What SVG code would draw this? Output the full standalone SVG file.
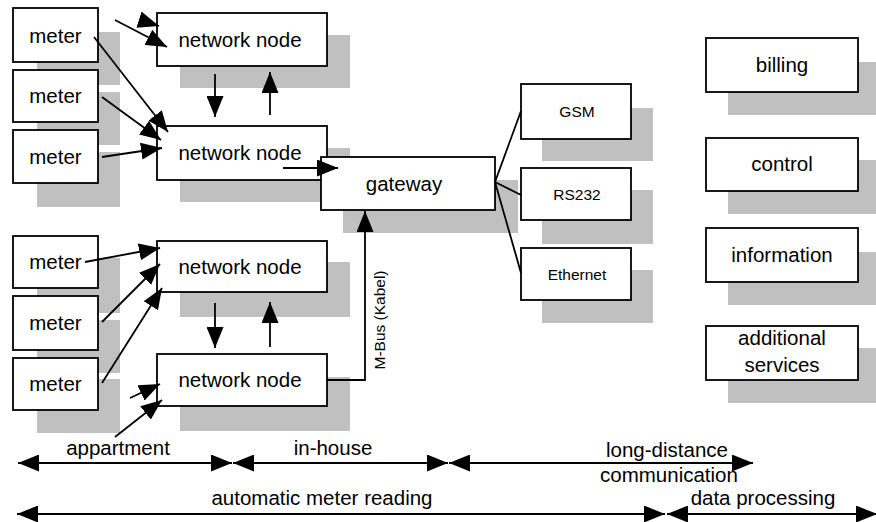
<svg xmlns="http://www.w3.org/2000/svg" width="876" height="522" viewBox="0 0 876 522">
<style>
.sh{fill:#c0c0c0;stroke:none}
.bx{fill:#fff;stroke:#000;stroke-width:1.8}
.t{font-family:"Liberation Sans",Arial,sans-serif;font-size:20.5px;fill:#000;text-anchor:middle}
.s{font-family:"Liberation Sans",Arial,sans-serif;font-size:15.5px;fill:#000;text-anchor:middle}
.c{stroke:#000;stroke-width:1.8;fill:none}
.a{marker-end:url(#ah)}
.d{marker-end:url(#ah);marker-start:url(#ah)}
</style>
<defs>
<marker id="ah" markerUnits="userSpaceOnUse" markerWidth="21" markerHeight="17" refX="21" refY="8.5" orient="auto-start-reverse" viewBox="0 0 21 17">
<path d="M0,0 L21,8.5 L0,17 z" fill="#000"/>
</marker>
</defs>
<rect width="876" height="522" fill="#fff"/>

<g id="meter1"><rect class="sh" x="37" y="32" width="83" height="53"/><rect class="bx" x="13" y="8" width="85" height="54"/><text class="t" x="55.5" y="43">meter</text></g>
<g id="meter2"><rect class="sh" x="37" y="92" width="83" height="53"/><rect class="bx" x="13" y="70" width="85" height="52"/><text class="t" x="55.5" y="103">meter</text></g>
<g id="meter3"><rect class="sh" x="37" y="152" width="83" height="55"/><rect class="bx" x="13" y="130" width="85" height="53"/><text class="t" x="55.5" y="164">meter</text></g>
<g id="meter4"><rect class="sh" x="37" y="258" width="83" height="55"/><rect class="bx" x="13" y="236" width="85" height="52"/><text class="t" x="55.5" y="269">meter</text></g>
<g id="meter5"><rect class="sh" x="37" y="320" width="83" height="53"/><rect class="bx" x="13" y="296" width="85" height="54"/><text class="t" x="55.5" y="330">meter</text></g>
<g id="meter6"><rect class="sh" x="37" y="379" width="83" height="54"/><rect class="bx" x="13" y="358" width="85" height="52"/><text class="t" x="55.5" y="391">meter</text></g>

<g id="node1"><rect class="sh" x="180" y="35" width="170" height="53"/><rect class="bx" x="157" y="13" width="170" height="53"/><text class="t" x="240" y="47">network node</text></g>
<g id="node2"><rect class="sh" x="180" y="148" width="170" height="54"/><rect class="bx" x="157" y="126" width="170" height="54"/><text class="t" x="240" y="160">network node</text></g>
<g id="node3"><rect class="sh" x="180" y="262" width="170" height="55"/><rect class="bx" x="157" y="241" width="170" height="51"/><text class="t" x="240" y="274">network node</text></g>
<g id="node4"><rect class="sh" x="180" y="377" width="170" height="54"/><rect class="bx" x="157" y="354" width="170" height="52"/><text class="t" x="240" y="387">network node</text></g>

<g id="gateway"><rect class="sh" x="343" y="180" width="175" height="53"/><rect class="bx" x="321" y="157" width="174" height="53"/><text class="t" x="404" y="191">gateway</text></g>

<g id="gsm"><rect class="sh" x="542" y="108" width="111" height="53"/><rect class="bx" x="521" y="84" width="110" height="55"/><text class="s" x="577" y="117">GSM</text></g>
<g id="rs232"><rect class="sh" x="542" y="190" width="111" height="54"/><rect class="bx" x="521" y="168" width="110" height="52"/><text class="s" x="577" y="200">RS232</text></g>
<g id="ethernet"><rect class="sh" x="542" y="270" width="111" height="53"/><rect class="bx" x="521" y="248" width="110" height="52"/><text class="s" x="577" y="280">Ethernet</text></g>

<g id="billing"><rect class="sh" x="728" y="62" width="152" height="53"/><rect class="bx" x="706" y="38" width="152" height="54"/><text class="t" x="782" y="72">billing</text></g>
<g id="control"><rect class="sh" x="728" y="160" width="152" height="54"/><rect class="bx" x="706" y="138" width="152" height="53"/><text class="t" x="782" y="171">control</text></g>
<g id="information"><rect class="sh" x="728" y="252" width="152" height="53"/><rect class="bx" x="706" y="228" width="152" height="54"/><text class="t" x="782" y="262">information</text></g>
<g id="services"><rect class="sh" x="728" y="348" width="152" height="55"/><rect class="bx" x="706" y="326" width="152" height="54"/><text class="t" x="782" y="345">additional</text><text class="t" x="782" y="372">services</text></g>

<g id="connectors">
<line class="c a" x1="115" y1="20" x2="167" y2="47"/>
<line class="c a" x1="140" y1="20" x2="159" y2="26"/>
<line class="c a" x1="94" y1="37" x2="168" y2="132"/>
<line class="c a" x1="102" y1="97" x2="161" y2="140"/>
<line class="c a" x1="102" y1="157" x2="162" y2="148"/>
<line class="c a" x1="283" y1="168" x2="338" y2="168"/>
<line class="c a" x1="215" y1="74" x2="215" y2="117"/>
<line class="c a" x1="270" y1="115" x2="270" y2="72"/>
<line class="c a" x1="215" y1="303" x2="215" y2="348"/>
<line class="c a" x1="270" y1="347" x2="270" y2="302"/>
<line class="c a" x1="85" y1="262" x2="160" y2="248"/>
<line class="c a" x1="102" y1="322" x2="160" y2="264"/>
<line class="c a" x1="102" y1="383" x2="162" y2="288"/>
<line class="c a" x1="130" y1="398" x2="160" y2="384"/>
<line class="c a" x1="115" y1="437" x2="162" y2="400"/>
<polyline class="c a" points="327,380 365,380 365,211"/>
<line class="c" x1="495" y1="182" x2="521" y2="111"/>
<line class="c" x1="495" y1="182" x2="521" y2="195"/>
<line class="c" x1="495" y1="182" x2="521" y2="273"/>
<line class="c d" x1="18" y1="463" x2="232" y2="463"/>
<line class="c d" x1="233" y1="463" x2="448" y2="463"/>
<line class="c d" x1="449" y1="463" x2="753" y2="463"/>
<line class="c d" x1="17" y1="514" x2="665" y2="514"/>
<line class="c d" x1="667" y1="514" x2="877" y2="514"/>
</g>

<text class="s" transform="translate(385,320) rotate(-90)">M-Bus (Kabel)</text>
<text class="t" x="118" y="455">appartment</text>
<text class="t" x="333" y="455">in-house</text>
<text class="t" x="667" y="457">long-distance</text>
<text class="t" x="669" y="482">communication</text>
<text class="t" x="322" y="505">automatic meter reading</text>
<text class="t" x="763" y="505">data processing</text>
</svg>
